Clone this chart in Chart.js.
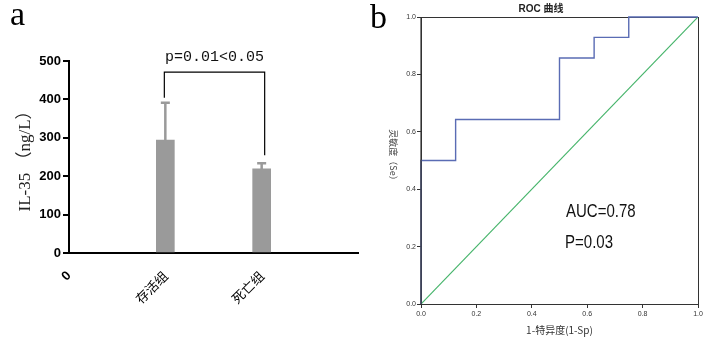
<!DOCTYPE html>
<html>
<head>
<meta charset="utf-8">
<script src="https://cdn.jsdelivr.net/npm/chart.js@4/dist/chart.umd.min.js"></script>
<style>
html,body{margin:0;padding:0;background:#fff;width:709px;height:346px;overflow:hidden;}
.box{position:absolute;top:0;}
#wa{left:0;width:360px;height:346px;}
#wb{left:360px;width:349px;height:346px;}
</style>
</head>
<body>
<div class="box" id="wa"><canvas id="ca"></canvas></div>
<div class="box" id="wb"><canvas id="cb"></canvas></div>
<script>
// ---- Panel a data ----
const groups = ['0', '存活组', '死亡组', ''];
const means = [null, 294, 219, null];
const sds = [null, 97, 15, null];
const pText = 'p=0.01<0.05';
const bracketLevel = 471;

// ---- Panel b data ----
const rocFpr = [0, 0, 0.125, 0.5, 0.625, 0.75, 1];
const rocTpr = [0, 0.5, 0.643, 0.857, 0.929, 1, 1];
const refFpr = [0, 1];
const refTpr = [0, 1];
const axisTicks01 = [0, 0.2, 0.4, 0.6, 0.8, 1.0];
const aucText = 'AUC=0.78';
const pValText = 'P=0.03';

Chart.defaults.animation = false;
Chart.defaults.responsive = true;
Chart.defaults.maintainAspectRatio = false;

const gray = '#9a9a9a';

const panelAPlugin = {
  id: 'panelA',
  afterDatasetsDraw(chart) {
    const ctx = chart.ctx;
    const y = chart.scales.y;
    const meta = chart.getDatasetMeta(0);
    ctx.save();
    ctx.strokeStyle = gray;
    ctx.lineWidth = 2.5;
    const tops = [];
    means.forEach((m, i) => {
      if (m == null) return;
      const x = meta.data[i].x;
      const yb = y.getPixelForValue(m);
      const yt = y.getPixelForValue(m + sds[i]);
      ctx.beginPath();
      ctx.moveTo(x, yb); ctx.lineTo(x, yt);
      ctx.moveTo(x - 4.5, yt); ctx.lineTo(x + 4.5, yt);
      ctx.stroke();
      tops.push({x, yt});
    });
    const yl = y.getPixelForValue(bracketLevel);
    ctx.strokeStyle = '#000';
    ctx.lineWidth = 1.2;
    ctx.beginPath();
    ctx.moveTo(tops[0].x - 1, tops[0].yt - 5);
    ctx.lineTo(tops[0].x - 1, yl);
    ctx.lineTo(tops[1].x + 3, yl);
    ctx.lineTo(tops[1].x + 3, tops[1].yt - 8);
    ctx.stroke();
    ctx.fillStyle = '#111';
    ctx.font = '15px "Liberation Mono", monospace';
    ctx.textAlign = 'center';
    ctx.textBaseline = 'middle';
    ctx.fillText(pText, (tops[0].x + tops[1].x) / 2 + 1, yl - 15);
    ctx.font = '34px "Liberation Serif", serif';
    ctx.textAlign = 'left';
    ctx.textBaseline = 'alphabetic';
    ctx.fillStyle = '#000';
    ctx.fillText('a', 10, 25);
    ctx.restore();
  }
};

new Chart(document.getElementById('ca'), {
  type: 'bar',
  data: {
    labels: groups,
    datasets: [{
      data: means,
      backgroundColor: gray,
      borderWidth: 0,
      barThickness: 18
    }]
  },
  options: {
    layout: { padding: { top: 61, right: 2, bottom: 0, left: 0 } },
    plugins: { legend: { display: false }, tooltip: { enabled: false } },
    scales: {
      x: {
        type: 'category',
        offset: false,
        grid: { display: false, drawTicks: false },
        border: { display: true, color: '#000', width: 2 },
        ticks: {
          maxRotation: 45, minRotation: 45,
          padding: 15,
          color: '#000',
          font: (c) => c.index === 0
            ? { family: 'Arial, "Liberation Sans", sans-serif', size: 13, weight: 'bold' }
            : { family: '"Noto Sans CJK SC", sans-serif', size: 13, weight: 'normal' }
        },
        afterFit(s) { s.height = 93; s.paddingLeft = 0; s.paddingRight = 0; }
      },
      y: {
        min: 0, max: 500,
        ticks: {
          stepSize: 100,
          padding: 2,
          color: '#000',
          font: { family: 'Arial, "Liberation Sans", sans-serif', size: 13, weight: 'bold' }
        },
        grid: { drawOnChartArea: false, drawTicks: true, tickLength: 6, color: '#000', lineWidth: 2 },
        border: { display: true, color: '#000', width: 2 },
        title: {
          display: true,
          text: 'IL-35 （ng/L）',
          color: '#222',
          font: { family: '"Liberation Serif", "Noto Sans CJK SC", serif', size: 17 },
          padding: { top: 15, bottom: 0 }
        },
        afterFit(s) { s.width = 69; s.paddingTop = 0; s.paddingBottom = 0; }
      }
    }
  },
  plugins: [panelAPlugin]
});

const panelBPlugin = {
  id: 'panelB',
  beforeDatasetsDraw(chart) {
    const ctx = chart.ctx;
    const a = chart.chartArea;
    ctx.save();
    ctx.strokeStyle = '#333';
    ctx.lineWidth = 1;
    ctx.strokeRect(Math.round(a.left) + 0.5, Math.round(a.top) + 0.5,
      Math.round(a.right - a.left), Math.round(a.bottom - a.top));
    ctx.restore();
  },
  afterDatasetsDraw(chart) {
    const ctx = chart.ctx;
    const a = chart.chartArea;
    ctx.save();
    // left axis stays on top of the curve's first vertical segment
    ctx.strokeStyle = '#333';
    ctx.lineWidth = 1.2;
    ctx.beginPath();
    ctx.moveTo(a.left, a.top);
    ctx.lineTo(a.left, a.bottom);
    ctx.stroke();
    ctx.fillStyle = '#222';
    ctx.font = 'bold 10px Arial, "Liberation Sans", "Noto Sans CJK SC", sans-serif';
    ctx.textAlign = 'center';
    ctx.textBaseline = 'middle';
    ctx.fillText('ROC 曲线', 181, 9);
    ctx.save();
    ctx.translate(33, 157);
    ctx.rotate(Math.PI / 2);
    ctx.fillStyle = '#444';
    ctx.font = '9px "Noto Sans CJK SC", sans-serif';
    ctx.fillText('灵敏度（Se）', 0, 0);
    ctx.restore();
    ctx.fillStyle = '#111';
    ctx.font = '19px "Liberation Sans", sans-serif';
    ctx.textAlign = 'left';
    ctx.save();
    ctx.translate(206, 212);
    ctx.scale(0.79, 1);
    ctx.fillText(aucText, 0, 0);
    ctx.restore();
    ctx.save();
    ctx.translate(205, 243);
    ctx.scale(0.79, 1);
    ctx.fillText(pValText, 0, 0);
    ctx.restore();
    ctx.fillStyle = '#000';
    ctx.font = '34px "Liberation Serif", serif';
    ctx.textBaseline = 'alphabetic';
    ctx.fillText('b', 10, 28);
    ctx.restore();
  }
};

const tickFont = { family: 'Arial, "Liberation Sans", sans-serif', size: 7 };

new Chart(document.getElementById('cb'), {
  type: 'line',
  data: {
    datasets: [
      {
        data: rocFpr.map((x, i) => ({ x, y: rocTpr[i] })),
        borderColor: '#5a6cb4',
        borderWidth: 1.4,
        pointRadius: 0,
        stepped: 'before',
        fill: false,
        clip: 2
      },
      {
        data: refFpr.map((x, i) => ({ x, y: refTpr[i] })),
        borderColor: '#45b46a',
        borderWidth: 1.2,
        pointRadius: 0,
        fill: false
      }
    ]
  },
  options: {
    layout: { padding: { top: 17, right: 11, bottom: 0, left: 0 } },
    plugins: { legend: { display: false }, tooltip: { enabled: false } },
    scales: {
      x: {
        type: 'linear', min: 0, max: 1,
        afterBuildTicks(s) { s.ticks = axisTicks01.map(v => ({ value: v })); },
        ticks: { color: '#333', font: tickFont, padding: 2, callback: v => v.toFixed(1), maxRotation: 0 },
        grid: { drawOnChartArea: false, tickLength: 4, color: '#333' },
        border: { display: true, color: '#333', width: 1 },
        title: {
          display: true,
          text: '1-特异度(1-Sp)',
          color: '#333',
          font: { family: '"Noto Sans CJK SC", sans-serif', size: 10 },
          padding: { top: 0, bottom: 10 }
        },
        afterFit(s) { s.height = 42; s.paddingLeft = 0; s.paddingRight = 0; }
      },
      y: {
        type: 'linear', min: 0, max: 1,
        afterBuildTicks(s) { s.ticks = axisTicks01.map(v => ({ value: v })); },
        ticks: { color: '#333', font: tickFont, padding: 1, callback: v => v.toFixed(1) },
        grid: { drawOnChartArea: false, tickLength: 4, color: '#333' },
        border: { display: true, color: '#333', width: 1 },
        afterFit(s) { s.width = 61; s.paddingTop = 0; s.paddingBottom = 0; }
      }
    }
  },
  plugins: [panelBPlugin]
});
</script>
</body>
</html>
